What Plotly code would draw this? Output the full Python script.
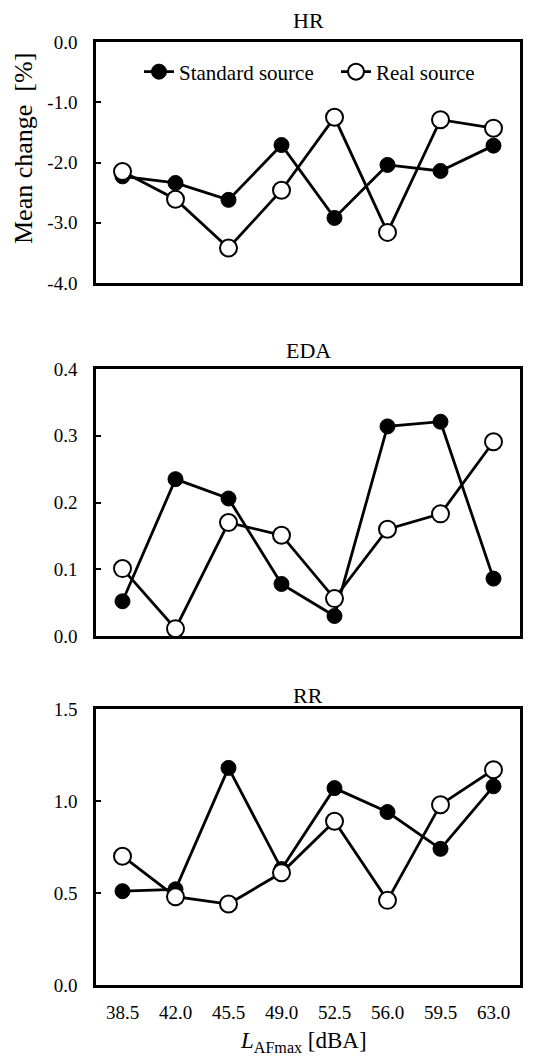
import plotly.graph_objects as go

categories = ["38.5", "42.0", "45.5", "49.0", "52.5", "56.0", "59.5", "63.0"]

hr_standard = [-2.23, -2.34, -2.62, -1.71, -2.92, -2.04, -2.14, -1.72]
hr_real = [-2.15, -2.61, -3.42, -2.46, -1.25, -3.16, -1.29, -1.43]

eda_standard = [0.052, 0.235, 0.206, 0.078, 0.030, 0.314, 0.321, 0.086]
eda_real = [0.101, 0.011, 0.170, 0.151, 0.056, 0.160, 0.183, 0.291]

rr_standard = [0.51, 0.52, 1.18, 0.63, 1.07, 0.94, 0.74, 1.08]
rr_real = [0.70, 0.48, 0.44, 0.61, 0.89, 0.46, 0.98, 1.17]

panel_titles = ["HR", "EDA", "RR"]
y_ranges = [[-4.0, 0.0], [0.0, 0.4], [0.0, 1.5]]

hr_tickvals = [0.0, -1.0, -2.0, -3.0, -4.0]
hr_ticktext = ["0.0", "-1.0", "-2.0", "-3.0", "-4.0"]
eda_tickvals = [0.0, 0.1, 0.2, 0.3, 0.4]
eda_ticktext = ["0.0", "0.1", "0.2", "0.3", "0.4"]
rr_tickvals = [0.0, 0.5, 1.0, 1.5]
rr_ticktext = ["0.0", "0.5", "1.0", "1.5"]

y_ticks = [(hr_tickvals, hr_ticktext), (eda_tickvals, eda_ticktext), (rr_tickvals, rr_ticktext)]

W, H = 536, 1059
FONT = "Liberation Serif, Times New Roman, serif"

# pixel boxes (top, bottom)
x_px = (96, 520)
y_px = [(42, 283), (369, 636), (709, 985)]

fig = go.Figure()

series = [(hr_standard, hr_real), (eda_standard, eda_real), (rr_standard, rr_real)]

for i, (std, real) in enumerate(series):
    xa = "x" if i == 0 else f"x{i+1}"
    ya = "y" if i == 0 else f"y{i+1}"
    fig.add_trace(go.Scatter(
        x=categories, y=std, xaxis=xa, yaxis=ya, mode="lines+markers",
        name="Standard source", showlegend=(i == 0), legend="legend", cliponaxis=False,
        line=dict(color="black", width=2.8),
        marker=dict(symbol="circle", size=15, color="black", line=dict(color="black", width=1)),
    ))
    fig.add_trace(go.Scatter(
        x=categories, y=real, xaxis=xa, yaxis=ya, mode="lines+markers",
        name="Real source", showlegend=(i == 0), legend="legend2", cliponaxis=False,
        line=dict(color="black", width=2.8),
        marker=dict(symbol="circle", size=17, color="white", line=dict(color="black", width=2)),
    ))

legend_common = dict(orientation="h", yanchor="middle", xanchor="left",
                     bgcolor="rgba(0,0,0,0)", font=dict(size=21, family=FONT),
                     itemwidth=30, tracegroupgap=0, borderwidth=0)

layout = dict(
    width=W, height=H,
    template="none",
    margin=dict(l=0, r=0, t=0, b=0, pad=0),
    paper_bgcolor="white", plot_bgcolor="white",
    font=dict(family=FONT, color="black", size=19),
    showlegend=True,
    legend=dict(x=139 / W, y=1 - 72 / H, **legend_common),
    legend2=dict(x=336 / W, y=1 - 72 / H, **legend_common),
)

for i in range(3):
    xk = "xaxis" if i == 0 else f"xaxis{i+1}"
    yk = "yaxis" if i == 0 else f"yaxis{i+1}"
    top, bot = y_px[i]
    tv, tt = y_ticks[i]
    layout[xk] = dict(
        domain=[x_px[0] / W, x_px[1] / W],
        anchor="y" if i == 0 else f"y{i+1}",
        type="category", range=[-0.5, 7.5], automargin=False,
        showline=True, linecolor="black", linewidth=2.5, mirror=True,
        showgrid=False, zeroline=False, ticks="",
        showticklabels=(i == 2), ticklabelstandoff=8,
        tickfont=dict(size=19, family=FONT),
    )
    layout[yk] = dict(
        domain=[1 - bot / H, 1 - top / H],
        anchor="x" if i == 0 else f"x{i+1}",
        range=y_ranges[i], tickmode="array", tickvals=tv, ticktext=tt, automargin=False,
        showline=True, linecolor="black", linewidth=2.5, mirror=True,
        showgrid=False, zeroline=False,
        ticks="inside", ticklen=5, tickwidth=2, tickcolor="black",
        ticklabelstandoff=12,
        tickfont=dict(size=19, family=FONT),
    )

fig.update_layout(**layout)

annotations = []
title_y = [20, 350, 695]
for i, t in enumerate(panel_titles):
    annotations.append(dict(
        text=t, x=(x_px[0] + x_px[1]) / 2 / W, y=1 - title_y[i] / H,
        xref="paper", yref="paper", xanchor="center", yanchor="middle",
        showarrow=False, font=dict(size=22, family=FONT),
    ))
annotations.append(dict(
    text="Mean change  [%]", x=24 / W, y=1 - 149 / H, xref="paper", yref="paper",
    xanchor="center", yanchor="middle", textangle=-90, showarrow=False,
    font=dict(size=26, family=FONT),
))
annotations.append(dict(
    text="<i>L</i><sub>AFmax</sub> [dBA]", x=303 / W, y=1 - 1042 / H, xref="paper", yref="paper",
    xanchor="center", yanchor="middle", showarrow=False,
    font=dict(size=23, family=FONT),
))
fig.update_layout(annotations=annotations)

fig.write_html(
    "out.html",
    config={"displayModeBar": False},
    post_script="document.body.style.margin='0';document.body.style.overflow='hidden';",
)
